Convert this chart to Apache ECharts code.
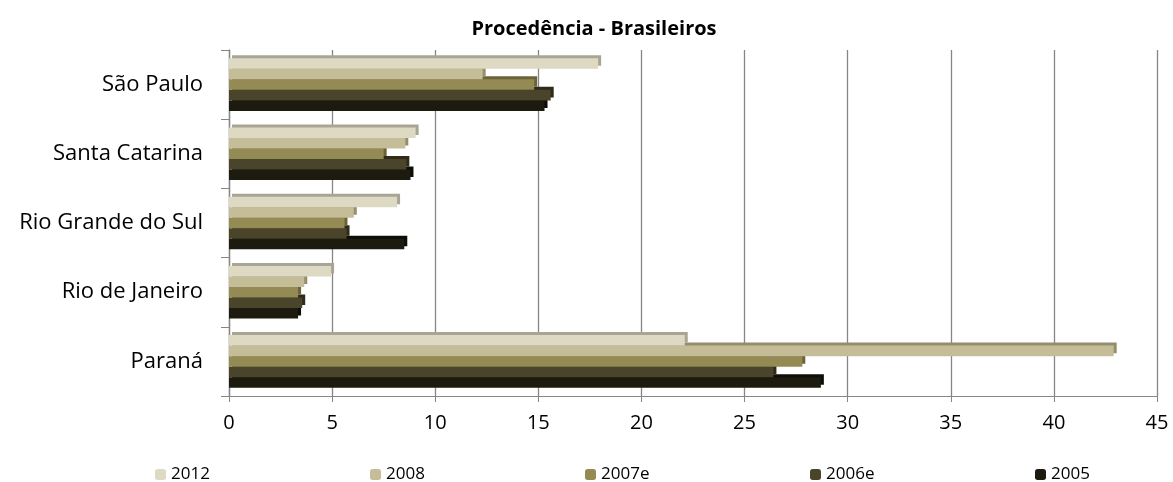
<!DOCTYPE html>
<html><head><meta charset="utf-8">
<script src="https://cdn.jsdelivr.net/npm/echarts@6/dist/echarts.min.js"></script>
<style>html,body{margin:0;padding:0;background:#fff}#c{width:1173px;height:482px}</style>
</head><body><div id="c"></div>
<script>
const categories = ['Paraná', 'Rio de Janeiro', 'Rio Grande do Sul', 'Santa Catarina', 'São Paulo'];
const xTicks = [0, 5, 10, 15, 20, 25, 30, 35, 40, 45];
const s2012  = [22.1, 4.95, 8.15, 9.05, 17.9];
const s2008  = [42.9, 3.65, 6.05, 8.55, 12.3];
const s2007e = [27.8, 3.35, 5.6, 7.5, 14.8];
const s2006e = [26.4, 3.55, 5.7, 8.6, 15.6];
const s2005  = [28.7, 3.35, 8.5, 8.8, 15.3];
const seriesNames = ['2012', '2008', '2007e', '2006e', '2005'];
const seriesData = [s2012, s2008, s2007e, s2006e, s2005];
const colors = ['#DDD9C3', '#C4BD97', '#948A54', '#4A452A', '#1D1B10'];
const edge = ['#A9A594', '#958E6C', '#6B633A', '#2F2B18', '#0E0D07'];
const legendLeft = [155, 370, 585, 810, 1035];

const chart = echarts.init(document.getElementById('c'));
const font = 'Open Sans';
const series = seriesNames.map((n, i) => ({
  name: n,
  type: 'bar',
  data: seriesData[i],
  barGap: '0%',
  barCategoryGap: '24%',
  z: 10 - i,
  itemStyle: { color: colors[i], shadowColor: edge[i], shadowBlur: 0, shadowOffsetX: 3, shadowOffsetY: -3 },
  emphasis: { disabled: true },
  animation: false
}));
chart.setOption({
  animation: false,
  title: {
    text: 'Procedência - Brasileiros',
    left: 589, top: 14, textAlign: 'center',
    textStyle: { fontFamily: font, fontWeight: 'bold', fontSize: 20, color: '#000' }
  },
  legend: seriesNames.map((n, i) => ({
    data: [n], left: legendLeft[i], top: 466,
    itemWidth: 11, itemHeight: 11, itemGap: 4, padding: 0,
    itemStyle: { borderWidth: 0, shadowOffsetX: 0, shadowOffsetY: 0 },
    textStyle: { fontFamily: font, fontSize: 17, color: '#000', padding: [0, 0, 0, 0] },
    selectedMode: false
  })),
  color: colors,
  grid: { left: 229, right: 16, top: 50, bottom: 86 },
  xAxis: {
    type: 'value', min: 0, max: 45, interval: 5,
    axisLine: { show: true, lineStyle: { color: '#868686', width: 1.2 } },
    axisTick: { show: true, length: 6, lineStyle: { color: '#868686' } },
    splitLine: { show: true, lineStyle: { color: '#868686', width: 1.3 } },
    axisLabel: { fontFamily: font, fontSize: 20, color: '#000', margin: 17,
      formatter: v => xTicks.includes(v) ? String(v) : '' }
  },
  yAxis: {
    type: 'category', data: categories,
    axisLine: { show: true, lineStyle: { color: '#868686', width: 1.3 } },
    axisTick: { show: true, length: 8, lineStyle: { color: '#868686' } },
    axisLabel: { fontFamily: font, fontSize: 22, color: '#000', margin: 26 }
  },
  series: series
});
</script></body></html>
